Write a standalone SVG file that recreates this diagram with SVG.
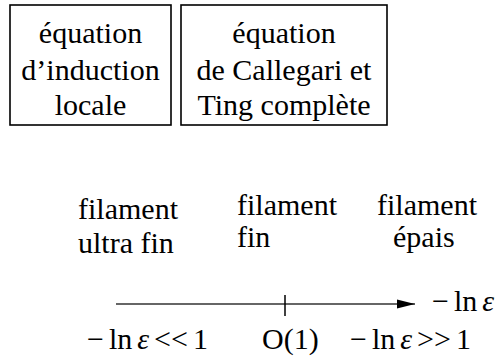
<svg xmlns="http://www.w3.org/2000/svg" width="501" height="359" viewBox="0 0 501 359">
<style>
text{font-size:30px;fill:#000}
.box{fill:#fff;stroke:#000;stroke-width:1.6}
.mid{text-anchor:middle}
.eps{font-style:italic}
.math{word-spacing:-2.5px}
.axis{stroke:#333;stroke-width:1.5;fill:none}
</style>
<defs>
<marker id="arr" markerWidth="18" markerHeight="10" refX="18" refY="5" orient="auto" markerUnits="userSpaceOnUse">
<path d="M0,0.5 L18,5 L0,9.5 Z" fill="#000"/>
</marker>
</defs>
<rect width="501" height="359" fill="#fff"/>
<g font-family="Liberation Serif">
<g id="box-induction">
<rect class="box" x="10" y="5" width="161" height="120"/>
<text class="mid" x="90.5" y="43">équation</text>
<text class="mid" x="90.5" y="80">d’induction</text>
<text class="mid" x="90.5" y="115">locale</text>
</g>
<g id="box-callegari">
<rect class="box" x="181" y="5" width="206" height="120"/>
<text class="mid" x="284" y="43">équation</text>
<text class="mid" x="284" y="80">de Callegari et</text>
<text class="mid" x="284" y="115">Ting complète</text>
</g>
<g id="label-ultrafin">
<text x="78" y="219">filament</text>
<text x="78" y="253">ultra fin</text>
</g>
<g id="label-fin">
<text x="237" y="215">filament</text>
<text x="237" y="247">fin</text>
</g>
<g id="label-epais">
<text x="377" y="215">filament</text>
<text x="393" y="247">épais</text>
</g>
<g id="connectors">
<line class="axis" x1="116" y1="304" x2="415" y2="304" marker-end="url(#arr)"/>
<line x1="285" y1="295" x2="285" y2="316" stroke="#000" stroke-width="1.5"/>
</g>
<g id="axis-labels">
<text class="math" x="432" y="311">− ln <tspan class="eps">ε</tspan></text>
<text class="math" x="87" y="349">− ln <tspan class="eps">ε</tspan> &lt;&lt; 1</text>
<text x="262" y="349">O(1)</text>
<text class="math" x="350" y="349">− ln <tspan class="eps">ε</tspan> &gt;&gt; 1</text>
</g>
</g>
</svg>
